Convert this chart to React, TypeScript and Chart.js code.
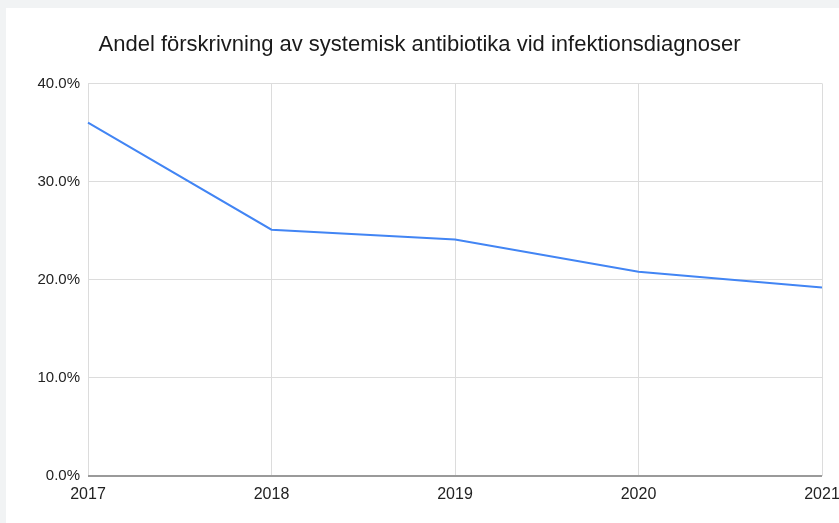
import React, { useEffect, useRef } from "react";
import { Chart, registerables } from "chart.js";

Chart.register(...registerables);

const title = "Andel förskrivning av systemisk antibiotika vid infektionsdiagnoser";
const years = ["2017", "2018", "2019", "2020", "2021"];
const shareValues = [36.0, 25.1, 24.1, 20.8, 19.2];
const yTicks = [0, 10, 20, 30, 40];

export default function App() {
  const ref = useRef<HTMLCanvasElement | null>(null);
  useEffect(() => {
    if (!ref.current) return;
    const chart = new Chart(ref.current, {
      type: "line",
      data: {
        labels: years,
        datasets: [
          {
            data: shareValues,
            borderColor: "#4285f4",
            borderWidth: 2,
            pointRadius: 0,
            tension: 0,
            fill: false,
          },
        ],
      },
      options: {
        animation: false,
        responsive: false,
        maintainAspectRatio: false,
        layout: { padding: { left: 11, right: 17, top: 0, bottom: 0 } },
        plugins: {
          legend: { display: false },
          tooltip: { enabled: false },
          title: {
            display: true,
            text: title,
            color: "#1a1a1a",
            font: { family: "'Liberation Sans', Arial, sans-serif", size: 22, weight: "normal" },
            padding: { top: 24, bottom: 25 },
          },
        },
        scales: {
          x: {
            type: "category",
            offset: false,
            border: { display: false },
            grid: { color: "#dcdcdc", lineWidth: 1, drawTicks: false },
            ticks: {
              color: "#222",
              padding: 9,
              maxRotation: 0,
              autoSkip: false,
              font: { family: "'Liberation Sans', Arial, sans-serif", size: 16 },
            },
            afterFit: (s: any) => {
              s.height = 47;
              s.paddingLeft = 0;
              s.paddingRight = 0;
            },
          },
          y: {
            min: 0,
            max: 40,
            border: { display: false },
            grid: {
              drawTicks: false,
              color: (ctx: any) => (ctx.tick && ctx.tick.value === 0 ? "#9a9a9a" : "#dcdcdc"),
              lineWidth: (ctx: any) => (ctx.tick && ctx.tick.value === 0 ? 2 : 1),
            },
            afterBuildTicks: (s: any) => {
              s.ticks = yTicks.map((v) => ({ value: v }));
            },
            ticks: {
              color: "#222",
              padding: 8,
              font: { family: "'Liberation Sans', Arial, sans-serif", size: 15 },
              callback: (v: any) => Number(v).toFixed(1) + "%",
            },
            afterFit: (s: any) => {
              s.width = 71;
              s.paddingTop = 0;
              s.paddingBottom = 0;
            },
          },
        },
      },
    });
    return () => chart.destroy();
  }, []);

  return (
    <div style={{ position: "fixed", left: 0, top: 0, width: 839, height: 523, background: "#f1f3f4", overflow: "hidden" }}>
      <div style={{ position: "absolute", left: 6, top: 8, width: 833, height: 515, background: "#ffffff" }}>
        <canvas ref={ref} width={833} height={515} style={{ display: "block", width: 833, height: 515 }} />
      </div>
    </div>
  );
}
